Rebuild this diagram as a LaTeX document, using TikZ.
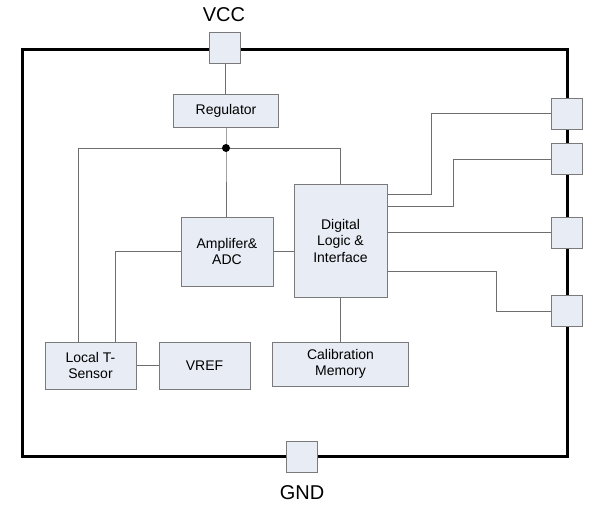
\documentclass[tikz,border=0pt]{standalone}
\usepackage{fontspec}
\setmainfont{Liberation Sans}
\usetikzlibrary{positioning}
\definecolor{blockfill}{HTML}{E8ECF5}
\definecolor{blockline}{HTML}{7A7A7A}
\definecolor{wire}{HTML}{6E6E6E}
\tikzset{
x=1pt, y=-1pt, % pixel-like units, y grows downwards
block/.style={draw=blockline, fill=blockfill, line width=1pt, align=center, inner sep=2pt,
  font=\fontsize{14}{16.5}\selectfont}, % sets the look of every functional block
pad/.style={draw=blockline, fill=blockfill, line width=1pt, minimum size=31pt, inner sep=0pt}, % pins on the chip border
wiring/.style={draw=wire, line width=1pt}, % connections inside the chip
pinlabel/.style={font=\fontsize{20}{22}\selectfont}, % VCC and GND text
}

\begin{document}
\begin{tikzpicture}
    \useasboundingbox (0,0) rectangle (592,506);
    % chip outline
    \draw[line width=3pt, line join=miter] (22,49) rectangle (567,456);
    % pins
    \node[pad] (vcc) at (225,48) {};
    \node[pad] (gnd) at (301.5,456.5) {};
    \node[pad] (p1) at (567,113.5) {};
    \node[pad] (p2) at (567,159) {};
    \node[pad] (p3) at (567,232.5) {};
    \node[pad] (p4) at (567,311) {};
    \node[pinlabel] (vcclabel) at (224,15) {VCC};
    \node[pinlabel] (gndlabel) at (302,493) {GND};
    % blocks
    \node[block, minimum width=105pt, minimum height=33pt] (reg) at (226,110.5) {Regulator};
    \node[block, minimum width=92pt, minimum height=69pt] (amp) at (227,251.5) {Amplifer\&\\ADC};
    \node[block, minimum width=93pt, minimum height=113pt] (dig) at (340.5,240.5) {Digital\\Logic \&\\Interface};
    \node[block, minimum width=91pt, minimum height=47pt] (ts) at (90.5,365.5) {Local T-\\Sensor};
    \node[block, minimum width=91pt, minimum height=47pt, right=22pt of ts] (vref) {VREF};
    \node[block, minimum width=136pt, minimum height=44pt] (cal) at (340.5,364) {Calibration\\Memory};
    \coordinate (dot) at (226,148);
    % connections
    \draw[wiring]
    (vcc) -- (vcc |- reg.north)
    (reg) -- (dot) -- (dot |- amp.north)
    (dot) -| (dig.north)
    (dot) -| ([xshift=34pt]ts.north west)
    (amp.west) -| ([xshift=71pt]ts.north west)
    (amp.east) -- (amp.east -| dig.west)
    (ts) -- (vref)
    (dig) -- (cal)
    ([yshift=-11pt]dig.north east) -- ++(44,0) |- (p1.west)
    ([yshift=-23pt]dig.north east) -- ++(66,0) |- (p2.west)
    (p3.west -| dig.east) -- (p3.west)
    ([yshift=-88pt]dig.north east) -- ++(109,0) |- (p4.west);
    \fill (dot) circle (4pt);
  \end{tikzpicture}
\end{document}
